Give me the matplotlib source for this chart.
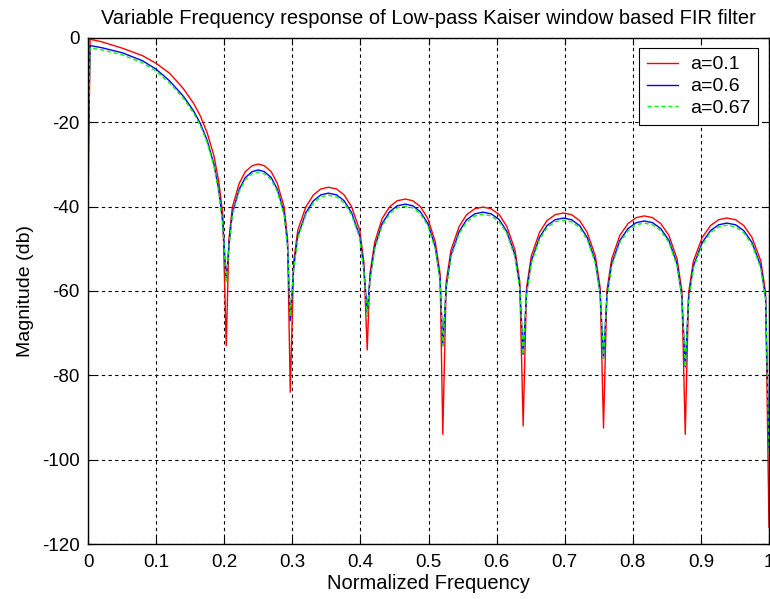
import matplotlib
matplotlib.use("Agg")
import matplotlib.pyplot as plt

plt.rcParams['font.family'] = ['Liberation Sans', 'DejaVu Sans']
plt.rcParams['axes.unicode_minus'] = False

# частоты (нормированные)
freq = [0, 0.003, 0.02, 0.05, 0.08, 0.1, 0.12, 0.14, 0.155, 0.165, 0.175, 0.185, 0.192, 0.198, 0.203,
        0.207, 0.212, 0.222, 0.231, 0.241, 0.250, 0.259, 0.269, 0.278, 0.288, 0.293, 0.297,
        0.302, 0.308, 0.320, 0.331, 0.342, 0.353, 0.365, 0.376, 0.387, 0.399, 0.405, 0.410,
        0.414, 0.421, 0.432, 0.443, 0.454, 0.466, 0.477, 0.488, 0.499, 0.510, 0.517, 0.521,
        0.526, 0.533, 0.545, 0.556, 0.568, 0.580, 0.592, 0.604, 0.615, 0.627, 0.634, 0.639,
        0.644, 0.651, 0.663, 0.674, 0.686, 0.698, 0.710, 0.722, 0.733, 0.745, 0.752, 0.757,
        0.762, 0.769, 0.781, 0.793, 0.805, 0.817, 0.829, 0.841, 0.853, 0.865, 0.872, 0.877,
        0.882, 0.889, 0.902, 0.914, 0.926, 0.938, 0.951, 0.963, 0.975, 0.988, 0.995, 1.0]

mag_a01 = [-41, -0.3, -0.9, -2.4, -4.2, -6, -8.4, -12, -15.5, -18.5, -22.5, -28, -34, -42, -73,
           -47.6, -40.1, -34.5, -31.7, -30.3, -29.9, -30.3, -31.7, -34.5, -40.1, -47.6, -84,
           -53.1, -45.6, -40, -37.2, -35.8, -35.4, -35.8, -37.2, -40, -45.6, -53.1, -74,
           -55.9, -48.4, -42.8, -40, -38.6, -38.2, -38.6, -40, -42.8, -48.4, -55.9, -94,
           -57.8, -50.3, -44.7, -41.9, -40.5, -40.1, -40.5, -41.9, -44.7, -50.3, -57.8, -92,
           -59.2, -51.7, -46.1, -43.3, -41.9, -41.5, -41.9, -43.3, -46.1, -51.7, -59.2, -92.5,
           -59.9, -52.4, -46.8, -44, -42.6, -42.2, -42.6, -44, -46.8, -52.4, -59.9, -94,
           -60.4, -52.9, -47.3, -44.5, -43.1, -42.7, -43.1, -44.5, -47.3, -52.9, -60.4, -116]

mag_a06 = [-28, -1.8, -2.3, -3.5, -5.4, -7.4, -10.2, -13.8, -17.3, -20.3, -24.3, -30, -36, -44, -57.5,
           -49, -41.5, -35.9, -33.1, -31.7, -31.3, -31.7, -33.1, -35.9, -41.5, -49, -67,
           -54.5, -47, -41.4, -38.6, -37.2, -36.8, -37.2, -38.6, -41.4, -47, -54.5, -65,
           -57.1, -49.6, -44, -41.2, -39.8, -39.4, -39.8, -41.2, -44, -49.6, -57.1, -73,
           -59, -51.5, -45.9, -43.1, -41.7, -41.3, -41.7, -43.1, -45.9, -51.5, -59, -75,
           -60.4, -52.9, -47.3, -44.5, -43.1, -42.7, -43.1, -44.5, -47.3, -52.9, -60.4, -76,
           -61.1, -53.6, -48, -45.2, -43.8, -43.4, -43.8, -45.2, -48, -53.6, -61.1, -78,
           -61.6, -54.1, -48.5, -45.7, -44.3, -43.9, -44.3, -45.7, -48.5, -54.1, -61.6, -97]

mag_a067 = [-28, -2.4, -2.8, -4, -5.9, -7.9, -10.7, -14.3, -17.8, -20.8, -24.8, -30.5, -36.5, -44.5, -58,
            -49.5, -42, -36.4, -33.6, -32.2, -31.8, -32.2, -33.6, -36.4, -42, -49.5, -66,
            -55, -47.5, -41.9, -39.1, -37.7, -37.3, -37.7, -39.1, -41.9, -47.5, -55, -66,
            -57.6, -50.1, -44.5, -41.7, -40.3, -39.9, -40.3, -41.7, -44.5, -50.1, -57.6, -73,
            -59.5, -52, -46.4, -43.6, -42.2, -41.8, -42.2, -43.6, -46.4, -52, -59.5, -75,
            -60.9, -53.4, -47.8, -45, -43.6, -43.2, -43.6, -45, -47.8, -53.4, -60.9, -76,
            -61.6, -54.1, -48.5, -45.7, -44.3, -43.9, -44.3, -45.7, -48.5, -54.1, -61.6, -78,
            -62.1, -54.6, -49, -46.2, -44.8, -44.4, -44.8, -46.2, -49, -54.6, -62.1, -98]

xticks = [0, 0.1, 0.2, 0.3, 0.4, 0.5, 0.6, 0.7, 0.8, 0.9, 1]
xticklabels = ['0', '0.1', '0.2', '0.3', '0.4', '0.5', '0.6', '0.7', '0.8', '0.9', '1']
yticks = [0, -20, -40, -60, -80, -100, -120]

fig = plt.figure(figsize=(7.7, 5.99), dpi=100)
ax = fig.add_axes([0.1143, 0.0918, 0.8844, 0.8448])

ax.plot(freq, mag_a01, color='red', linewidth=1, label='a=0.1')
ax.plot(freq, mag_a06, color='blue', linewidth=1, label='a=0.6')
ax.plot(freq, mag_a067, color='#00ff00', linewidth=1, linestyle=(0, (3, 2)), label='a=0.67')

ax.set_xlim(0, 1)
ax.set_ylim(-120, 0)
ax.set_xticks(xticks)
ax.set_xticklabels(xticklabels)
ax.set_yticks(yticks)
ax.grid(True, color='black', linestyle=(0, (3, 3)), linewidth=0.8)
ax.tick_params(direction='in', length=5, top=True, right=True, labelsize=13.5)
ax.tick_params(axis='x', pad=7)
ax.tick_params(axis='y', pad=6)
for s in ax.spines.values():
    s.set_linewidth(1.0)

ax.set_xlabel('Normalized Frequency', fontsize=14.5, labelpad=2)
ax.set_ylabel('Magnitude (db)', fontsize=14, labelpad=6)
ax.set_title('Variable Frequency response of Low-pass Kaiser window based FIR filter',
             fontsize=14.5, pad=10)

leg = ax.legend(loc='upper right', bbox_to_anchor=(0.984, 0.98), fontsize=14, fancybox=False,
                framealpha=1, edgecolor='black', borderpad=0.4, labelspacing=0.22,
                handlelength=1.6, handletextpad=0.6, borderaxespad=0)
leg.get_frame().set_linewidth(0.8)

fig.savefig('out.png', dpi=100)
